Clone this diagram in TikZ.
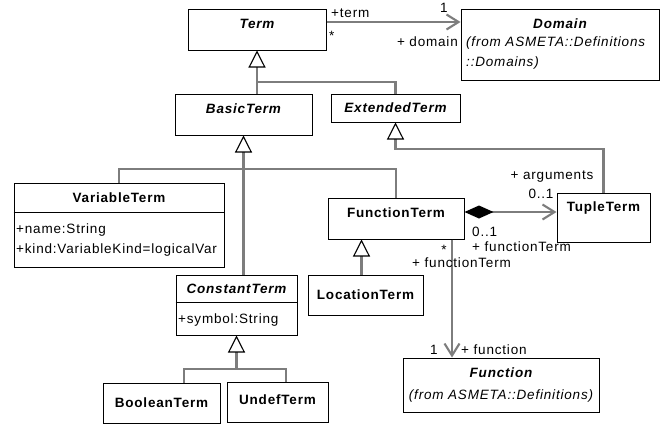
\documentclass[tikz,border=0pt]{standalone}
\usepackage{fontspec}
\setmainfont{Liberation Sans}[LetterSpace=6]
\usetikzlibrary{arrows.meta}
\definecolor{linkgray}{RGB}{125,125,125}
\tikzset{
  cls/.style={draw=black, line width=1pt, fill=white, inner sep=0pt, rectangle},
  cname/.style={font=\fontsize{13.5}{16}\selectfont\bfseries, inner sep=0pt},
  aname/.style={font=\fontsize{13.5}{16}\selectfont\bfseries\itshape, inner sep=0pt},
  txt/.style={font=\fontsize{13.5}{16}\selectfont, inner sep=0pt},
  itxt/.style={font=\fontsize{13.5}{16}\selectfont\itshape, inner sep=0pt},
  link/.style={draw=linkgray, line width=2.3pt},
  gen/.tip={Triangle[length=17pt,width=17pt,fill=white,color=black,line width=1.1pt]},
  nav/.tip={Straight Barb[length=12pt,width=15pt,line width=2.1pt]},
  comp/.tip={Diamond[length=29pt,width=13pt,color=black]},
}
\begin{document}
\begin{tikzpicture}[x=1pt,y=-1pt]
\useasboundingbox (0,0) rectangle (670,426);

% class frames
\node[cls, minimum width=138pt, minimum height=41pt] (term)  at (257,29.5)   {};
\node[cls, minimum width=198pt, minimum height=71pt] (dom)   at (560,44.5)   {};
\node[cls, minimum width=137pt, minimum height=41pt] (basic) at (243.5,114.5) {};
\node[cls, minimum width=129pt, minimum height=28pt] (ext)   at (395.5,108)  {};
\node[cls, minimum width=210pt, minimum height=84pt] (var)   at (119,225)    {};
\node[cls, minimum width=136pt, minimum height=41pt] (func)  at (396,218.5)  {};
\node[cls, minimum width=93pt,  minimum height=49pt] (tuple) at (603.5,217.5) {};
\node[cls, minimum width=115pt, minimum height=40pt] (loc)   at (365.5,295)  {};
\node[cls, minimum width=121pt, minimum height=60pt] (const) at (236.5,305)  {};
\node[cls, minimum width=117pt, minimum height=40pt] (bool)  at (161.5,403)  {};
\node[cls, minimum width=101pt, minimum height=40pt] (undef) at (277.5,402)  {};
\node[cls, minimum width=196pt, minimum height=54pt] (fn)    at (501,385)    {};

% compartment dividers
\draw[line width=1pt] (var.west |- 0,212) -- (var.east |- 0,212);
\draw[line width=1pt] (const.west |- 0,302) -- (const.east |- 0,302);

% class names and attributes
\node[aname] (termname)  at (257,24)    {Term};
\node[aname] (domname)   at (560,24)    {Domain};
\node[itxt, anchor=west] (domfrom1) at (466,43) {(from ASMETA::Definitions};
\node[itxt, anchor=west] (domfrom2) at (466,63) {::Domains)};
\node[aname] (basicname) at (243.5,109) {BasicTerm};
\node[aname] (extname)   at (395.5,108) {ExtendedTerm};
\node[cname] (varname)   at (119,198)   {VariableTerm};
\node[txt, anchor=west] (varattr1) at (16,230) {+name:String};
\node[txt, anchor=west] (varattr2) at (16,250) {+kind:VariableKind=logicalVar};
\node[cname] (funcname)  at (396,213)   {FunctionTerm};
\node[cname] (tuplename) at (603.5,208) {TupleTerm};
\node[cname] (locname)   at (365.5,295) {LocationTerm};
\node[aname] (constname) at (236.5,289) {ConstantTerm};
\node[txt, anchor=west] (constattr) at (178,320) {+symbol:String};
\node[cname] (boolname)  at (161.5,403) {BooleanTerm};
\node[cname] (undefname) at (277.5,400) {UndefTerm};
\node[aname] (fnname)    at (501,373)   {Function};
\node[itxt]  (fnfrom)    at (501,396)   {(from ASMETA::Definitions)};

% helper coordinates for bends
\coordinate (ay) at (0,22);
\coordinate (j1) at (257,82);
\coordinate (j2) at (243.5,169);
\coordinate (j3) at (236.5,369);
\coordinate (j4) at (0,149);
\coordinate (cy) at (0,212);
\coordinate (fx) at (452,0);

% association Term -> Domain
\draw[link,-nav] (term.east |- ay) -- (dom.west |- ay);

% generalizations
\draw[link,-gen] (basic.north -| term.south) -- (term.south);
\draw[link] (ext.north) |- (j1);
\draw[link,-gen] (const.north -| basic.south) -- (basic.south);
\draw[link] (var.north) |- (j2) -| (func.north);
\draw[link,-gen] (tuple.north) |- (ext.south |- j4) -- (ext.south);
\draw[link,-gen] ([xshift=-4pt]loc.north) -- ([xshift=-4pt]loc.north |- func.south);
\draw[link,-gen] (j3) -- (const.south);
\draw[link] ([xshift=22.5pt]bool.north) |- ([xshift=8.5pt]undef.north |- j3) -- ([xshift=8.5pt]undef.north);

% composition FunctionTerm -> TupleTerm
\draw[link,comp-nav] (func.east |- cy) -- (tuple.west |- cy);

% association FunctionTerm -> Function
\draw[link,-nav] (func.south -| fx) -- (fn.north -| fx);

% role names and multiplicities
\node[txt, anchor=west] (rterm)   at (331,13)  {+term};
\node[txt, anchor=west] (mterm)   at (329,36)  {*};
\node[txt] (mdom)    at (444,8)   {1};
\node[txt, anchor=east] (rdom)    at (458,42)  {+ domain};
\node[txt] (rargs)   at (552,177) {+ arguments};
\node[txt] (margs)   at (541,194) {0..1};
\node[txt, anchor=west] (mft)     at (472,232) {0..1};
\node[txt, anchor=west] (rft)     at (472,247) {+ functionTerm};
\node[txt] (mft2)    at (444,250) {*};
\node[txt, anchor=west] (rft2)    at (412,263) {+ functionTerm};
\node[txt] (mfn)     at (434,350) {1};
\node[txt, anchor=west] (rfn)     at (461,350) {+ function};
\end{tikzpicture}
\end{document}
